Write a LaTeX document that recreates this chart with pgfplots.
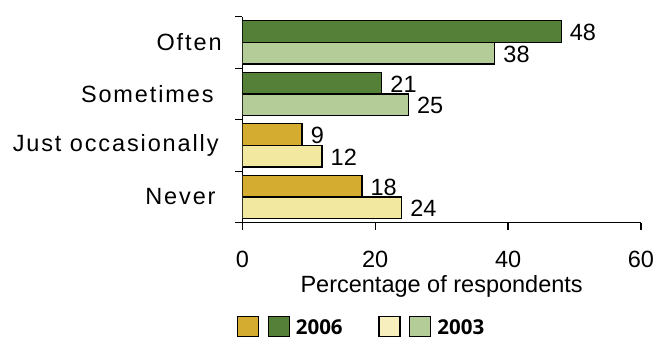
\documentclass[border=0pt]{standalone}
\usepackage{fontspec}
\setmainfont{Liberation Sans}
\newfontfamily\catfont[LetterSpace=8]{Liberation Sans}
\newfontfamily\legfont{Open Sans}
\usepackage{pgfplots}
\pgfplotsset{compat=1.18}

\definecolor{darkgreen}{RGB}{84,128,56}
\definecolor{lightgreen}{RGB}{180,205,152}
\definecolor{gold}{RGB}{212,172,48}
\definecolor{lightyellow}{RGB}{243,232,160}

\begin{document}
\begin{tikzpicture}[font=\fontsize{23.5}{28}\selectfont]
\begin{axis}[
  scale only axis,
  width=398.7pt, height=206pt,
  xmin=0, xmax=60, ymin=0, ymax=4,
  axis lines*=left,
  axis line style={-, line width=1.3pt},
  x axis line style={-}, y axis line style={-},
  tick style={line width=1.3pt, black},
  tick align=outside,
  major tick length=7.5pt,
  xtick={0,20,40,60},
  ytick={0,1,2,3,4},
  y tick label as interval,
  yticklabels={Never\hspace*{6pt}, Just occasionally\hspace*{3pt}, Sometimes\hspace*{8pt}, Often},
  yticklabel style={font=\catfont\fontsize{23.5}{28}\selectfont, inner sep=0pt, anchor=east, xshift=-13pt},
  xticklabel style={yshift=-17pt},
  /pgf/number format/assume math mode=true,
  xlabel={Percentage of respondents},
  xlabel style={yshift=-1pt},
  bars/.style={xbar, bar width=0.42, bar shift=0pt, draw=black, line width=1.3pt,
    nodes near coords, forget plot,
    every node near coord/.append style={anchor=west, black, inner xsep=8pt, yshift=-1pt}},
  legend columns=4,
  legend image code/.code={\path (-8pt,0pt); \draw[#1, line width=1.3pt] (0pt,-10pt) rectangle (21pt,10pt);},
  legend style={at={(axis description cs:-0.0334,-0.452)}, anchor=north west,
    draw=none, fill=none, inner sep=0pt, column sep=0pt, nodes={inner sep=0pt, text depth=0pt},
    font=\legfont\bfseries\fontsize{20.5}{24}\selectfont},
]
% 2006 survey
\addplot[bars, fill=darkgreen] coordinates {(48,3.71) (21,2.71)};
\addplot[bars, fill=gold] coordinates {(9,1.71) (18,0.71)};
% 2003 survey
\addplot[bars, fill=lightgreen] coordinates {(38,3.29) (25,2.29)};
\addplot[bars, fill=lightyellow] coordinates {(12,1.29) (24,0.29)};

\addlegendimage{fill=gold, draw=black}
\addlegendentry{}
\addlegendimage{fill=darkgreen, draw=black}
\addlegendentry{\hspace*{6pt}2006\hspace*{28pt}}
\addlegendimage{fill=lightyellow!70!white, draw=black}
\addlegendentry{}
\addlegendimage{fill=lightgreen, draw=black}
\addlegendentry{\hspace*{6pt}2003}

\coordinate (O) at (axis cs:0,0);
\end{axis}
\pgfresetboundingbox
\path[use as bounding box] ([shift={(-242.3pt,-117.3pt)}]O) rectangle ++(656pt,340pt);
\end{tikzpicture}
\end{document}
